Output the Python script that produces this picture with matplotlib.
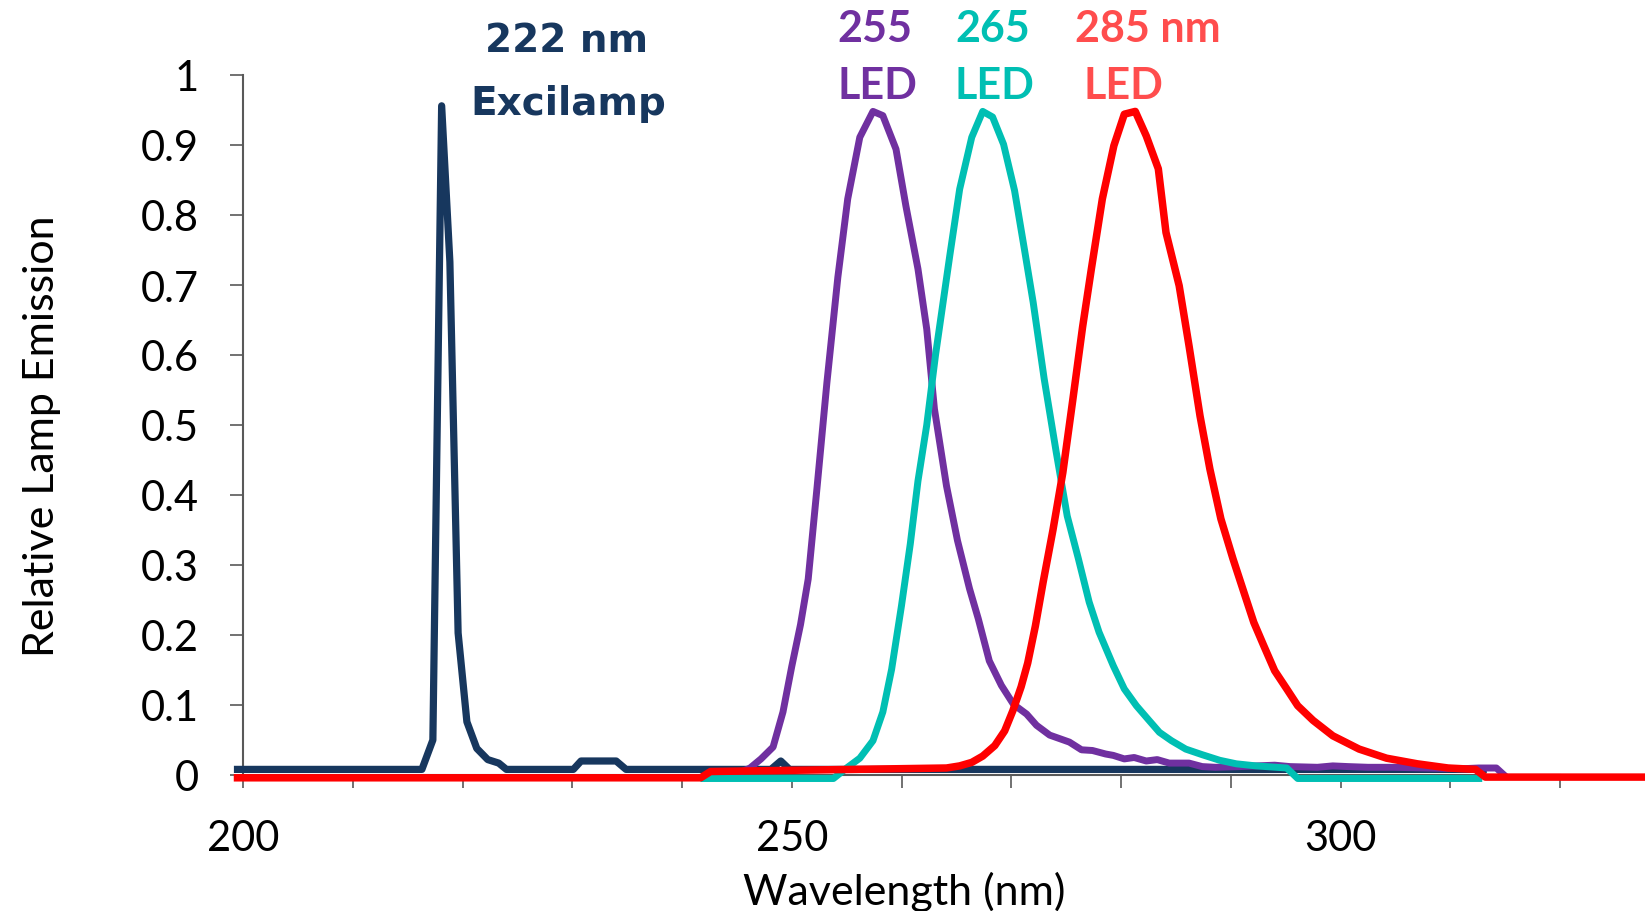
import matplotlib
matplotlib.use("Agg")
import matplotlib.pyplot as plt

# ---- data (wavelength in nm, relative emission) ----
excilamp_nm = [199.5, 216.3, 217.3, 218.1, 218.85, 219.6, 220.4, 221.3, 222.3, 223.3, 224.0,
               230.1, 230.8, 234.0, 234.9, 248.1, 249.0, 249.8, 313.0]
excilamp_em = [0.008, 0.008, 0.050, 0.956, 0.733, 0.203, 0.076, 0.038, 0.022, 0.017, 0.008,
               0.008, 0.020, 0.020, 0.008, 0.008, 0.020, 0.008, 0.008]

led255_nm = [245.5, 246.2, 247.2, 248.3, 249.2, 250.0, 250.8, 251.5, 252.3, 253.2, 254.2, 255.1,
             256.2, 257.4, 258.3, 259.5, 260.4, 261.5, 262.3, 263.0, 264.1, 265.1, 266.2, 267.0,
             268.0, 269.1, 270.2, 271.4, 272.3, 273.5, 274.4, 275.3, 276.4, 277.4, 278.6, 279.3,
             280.3, 281.2, 282.3, 283.3, 284.4, 286.2, 287.4, 288.6, 290.8, 294.0, 295.4, 297.9,
             299.3, 300.7, 302.5, 304.9, 307.7, 311.2, 312.6, 314.2, 314.9]
led255_em = [0.005, 0.010, 0.023, 0.040, 0.090, 0.155, 0.215, 0.280, 0.410, 0.560, 0.711, 0.823,
             0.911, 0.948, 0.942, 0.894, 0.813, 0.723, 0.637, 0.523, 0.413, 0.335, 0.266, 0.223,
             0.163, 0.128, 0.101, 0.087, 0.071, 0.057, 0.052, 0.047, 0.036, 0.035, 0.030, 0.028,
             0.023, 0.025, 0.020, 0.022, 0.017, 0.017, 0.012, 0.011, 0.012, 0.014, 0.012, 0.011,
             0.013, 0.012, 0.011, 0.011, 0.010, 0.009, 0.010, 0.010, 0.0]

led265_nm = [242.0, 253.8, 255.0, 256.2, 257.4, 258.3, 259.1, 260.0, 260.8, 261.5, 262.3, 263.1,
             264.4, 265.3, 266.4, 267.4, 268.3, 269.3, 270.3, 271.2, 272.0, 273.0, 274.1, 275.1,
             276.1, 277.1, 278.0, 279.3, 280.3, 281.4, 282.5, 283.5, 284.6, 285.9, 287.4, 289.0,
             290.5, 292.3, 295.1, 296.1, 312.6]
led265_em = [-0.005, -0.005, 0.010, 0.024, 0.049, 0.090, 0.151, 0.242, 0.330, 0.420, 0.500, 0.600,
             0.742, 0.837, 0.911, 0.948, 0.940, 0.901, 0.835, 0.751, 0.675, 0.566, 0.461, 0.370,
             0.310, 0.247, 0.204, 0.156, 0.123, 0.099, 0.079, 0.061, 0.049, 0.037, 0.029, 0.021,
             0.016, 0.013, 0.010, -0.005, -0.005]

led285_nm = [199.5, 241.7, 242.6, 264.1, 265.3, 266.4, 267.4, 268.5, 269.4, 270.15, 270.9, 271.5,
             272.2, 272.9, 273.8, 274.7, 275.6, 276.5, 277.3, 278.3, 279.35, 280.3, 281.3, 282.3,
             283.4, 284.1, 285.3, 286.2, 287.2, 288.1, 289.1, 290.2, 291.2, 292.1, 293.0, 294.0,
             295.1, 296.1, 297.5, 299.3, 301.7, 304.2, 307.0, 309.8, 312.3, 313.2, 330.0]
led285_em = [-0.004, -0.004, 0.005, 0.010, 0.013, 0.018, 0.027, 0.042, 0.063, 0.092, 0.126, 0.160,
             0.213, 0.275, 0.350, 0.432, 0.535, 0.640, 0.723, 0.823, 0.899, 0.944, 0.948, 0.913,
             0.866, 0.775, 0.699, 0.613, 0.513, 0.437, 0.366, 0.309, 0.261, 0.218, 0.185, 0.149,
             0.123, 0.099, 0.078, 0.056, 0.037, 0.024, 0.016, 0.010, 0.008, -0.003, -0.003]

x_ticks = [200, 210, 220, 230, 240, 250, 260, 270, 280, 290, 300, 310, 320]
x_ticklabels = ["200", "", "", "", "", "250", "", "", "", "", "300", "", ""]
y_ticks = [0, 0.1, 0.2, 0.3, 0.4, 0.5, 0.6, 0.7, 0.8, 0.9, 1.0]
y_ticklabels = ["0", "0.1", "0.2", "0.3", "0.4", "0.5", "0.6", "0.7", "0.8", "0.9", "1"]

navy = "#17375E"
purple = "#7030A0"
teal = "#00BFB3"
red = "#FF0000"
red_txt = "#FF4D4D"
axis_grey = "#595959"

plt.rcParams['font.family'] = ['Lato', 'DejaVu Sans']

fig = plt.figure(figsize=(16.45, 9.12), dpi=100)
ax = fig.add_axes([243 / 1645, 136 / 912, 1 - 243 / 1645, 700 / 912])

ax.plot(excilamp_nm, excilamp_em, color=navy, lw=5.2, clip_on=False)
ax.plot(led255_nm, led255_em, color=purple, lw=5.0, clip_on=False)
ax.plot(led265_nm, led265_em, color=teal, lw=5.0, clip_on=False)
ax.plot(led285_nm, led285_em, color=red, lw=5.4, clip_on=False)

ax.set_xlim(200, 200 + 1402 / 10.975)
ax.set_ylim(0, 1)

for s in ['top', 'right']:
    ax.spines[s].set_visible(False)
ax.spines['bottom'].set_bounds(200, 320)
ax.spines['left'].set_bounds(0, 1)
for s in ['bottom', 'left']:
    ax.spines[s].set_color(axis_grey)
    ax.spines[s].set_linewidth(1.5)
    ax.spines[s].set_zorder(1)

ax.set_xticks(x_ticks)
ax.set_xticklabels(x_ticklabels)
ax.set_yticks(y_ticks)
ax.set_yticklabels(y_ticklabels)
ax.tick_params(axis='both', direction='out', length=9.5, width=1.2, color=axis_grey,
               labelsize=30, labelcolor='black')
ax.tick_params(axis='x', pad=22)
ax.tick_params(axis='y', pad=22)
ax.patch.set_alpha(0)

fig.text(904 / 1645, 7 / 912, "Wavelength (nm)", fontsize=31, ha='center', va='baseline')
fig.text(54 / 1645, (912 - 436) / 912, "Relative Lamp Emission", fontsize=31, rotation=90,
         ha='center', va='baseline', rotation_mode='anchor')

# series labels
def lbl(x_nm, y_val, s, color, size, family='Lato'):
    ax.text(x_nm, y_val, s, color=color, fontsize=size, fontweight='bold', ha='center',
            va='baseline', family=family, clip_on=False)

lbl(229.5, 1.034, "222 nm", navy, 28, 'DejaVu Sans')
lbl(229.6, 0.944, "Excilamp", navy, 28, 'DejaVu Sans')
lbl(257.6, 1.049, "255", purple, 31)
lbl(257.8, 0.967, "LED", purple, 31)
lbl(268.3, 1.049, "265", teal, 31)
lbl(268.5, 0.967, "LED", teal, 31)
lbl(282.4, 1.049, "285 nm", red_txt, 31)
lbl(280.2, 0.967, "LED", red_txt, 31)

fig.savefig("out.png", dpi=100)
